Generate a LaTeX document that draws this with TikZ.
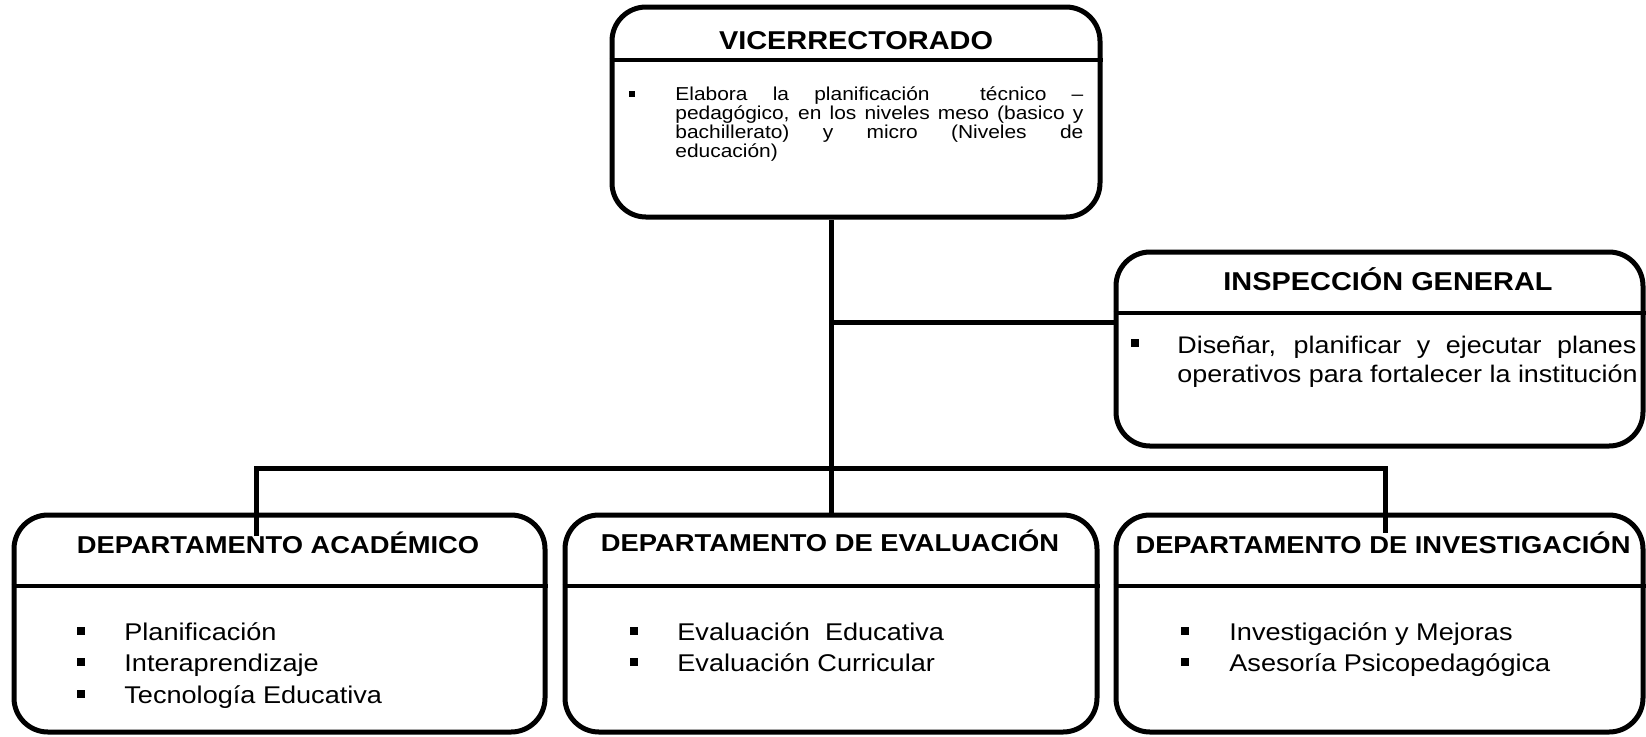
\documentclass[tikz,border=0pt]{standalone}
\usepackage{fontspec}
\setmainfont{Liberation Sans}[FakeStretch=1.12]
\usetikzlibrary{calc}
\begin{document}
\begin{tikzpicture}[x=0.5pt,y=-0.5pt,
  box/.style={draw, line width=2.5pt, rounded corners=17pt, inner sep=0pt},
  hdr/.style={line width=2.2pt},
  conn/.style={line width=2.5pt},
  bul/.style={fill, inner sep=0pt, minimum size=3.6pt},
  txt/.style={inner sep=0pt, anchor=base west},
  bigttl/.style={inner sep=0pt, anchor=base, font=\bfseries\fontsize{12.9}{15}\selectfont},
  ttl/.style={inner sep=0pt, anchor=base, font=\bfseries\fontsize{12.2}{14}\selectfont},
  vtxt/.style={txt, font=\fontsize{9.35}{11}\selectfont},
  itxt/.style={txt, font=\fontsize{12}{14}\selectfont},
  ltxt/.style={txt, font=\fontsize{12.1}{14}\selectfont}]
\useasboundingbox (0,0) rectangle (1646,736);
% boxes
\node[box, minimum width=244pt, minimum height=105pt] (vice) at (856,112) {};
\node[box, minimum width=263.5pt, minimum height=97pt] (insp) at (1379.5,349) {};
\node[box, minimum width=265.5pt, minimum height=108.5pt] (acad) at (279.5,623.5) {};
\node[box, minimum width=266pt, minimum height=108.5pt] (eval) at (831,623.5) {};
\node[box, minimum width=263.5pt, minimum height=108.5pt] (inv) at (1379.5,623.5) {};
% header lines
\draw[hdr] (vice.west |- 0,60) -- (vice.east |- 0,60);
\draw[hdr] (insp.west |- 0,313) -- (insp.east |- 0,313);
\draw[hdr] (acad.west |- 0,586) -- (acad.east |- 0,586);
\draw[hdr] (eval.west |- 0,586) -- (eval.east |- 0,586);
\draw[hdr] (inv.west |- 0,586) -- (inv.east |- 0,586);
% titles
\node[bigttl] (vicet) at (856,49) {VICERRECTORADO};
\node[bigttl] (inspt) at (1388,290) {INSPECCIÓN GENERAL};
\node[ttl] (acadt) at (278,553) {DEPARTAMENTO ACADÉMICO};
\node[ttl] (evalt) at (830,551) {DEPARTAMENTO DE EVALUACIÓN};
\node[ttl] (invt) at (1383,553) {DEPARTAMENTO DE INVESTIGACIÓN};
% vicerrectorado body
\node[bul, minimum size=3pt] (vb) at (632,94) {};
\node[vtxt] (v1) at (675,100) {\makebox[204pt][s]{Elabora la planificación \ técnico –}};
\node[vtxt] (v2) at (675,119) {\makebox[204pt][s]{pedagógico, en los niveles meso (basico y}};
\node[vtxt] (v3) at (675,138) {\makebox[204pt][s]{bachillerato) y micro (Niveles de}};
\node[vtxt] (v4) at (675,157) {educación)};
% inspeccion body
\node[bul] (ib) at (1135,343) {};
\node[itxt] (i1) at (1177,353) {\makebox[229.5pt][s]{Diseñar, planificar y ejecutar planes}};
\node[itxt] (i2) at (1177,382) {operativos para fortalecer la institución};
% academico list
\node[bul] (ab1) at (81,631) {};
\node[bul] (ab2) at (81,662) {};
\node[bul] (ab3) at (81,694) {};
\node[ltxt] (a1) at (124,640) {Planificación};
\node[ltxt] (a2) at (124,671) {Interaprendizaje};
\node[ltxt] (a3) at (124,703) {Tecnología Educativa};
% evaluacion list
\node[bul] (eb1) at (634,631) {};
\node[bul] (eb2) at (634,662) {};
\node[ltxt] (e1) at (677,640) {Evaluación \ Educativa};
\node[ltxt] (e2) at (677,671) {Evaluación Curricular};
% investigacion list
\node[bul] (nb1) at (1185,631) {};
\node[bul] (nb2) at (1185,662) {};
\node[ltxt] (n1) at (1229,640) {Investigación y Mejoras};
\node[ltxt] (n2) at (1229,671) {Asesoría Psicopedagógica};
% connectors
\draw[conn] (eval.north) -- (eval.north |- vice.south);
\coordinate (j) at (833,322);
\draw[conn] (j) -- (j -| insp.west);
\coordinate (bl) at (256,468);
\coordinate (br) at (1385,468);
\coordinate (bld) at (256,536);
\coordinate (brd) at (1385,533);
\draw[conn] (bld) -- (bl) -- (br) -- (brd);
\end{tikzpicture}
\end{document}
